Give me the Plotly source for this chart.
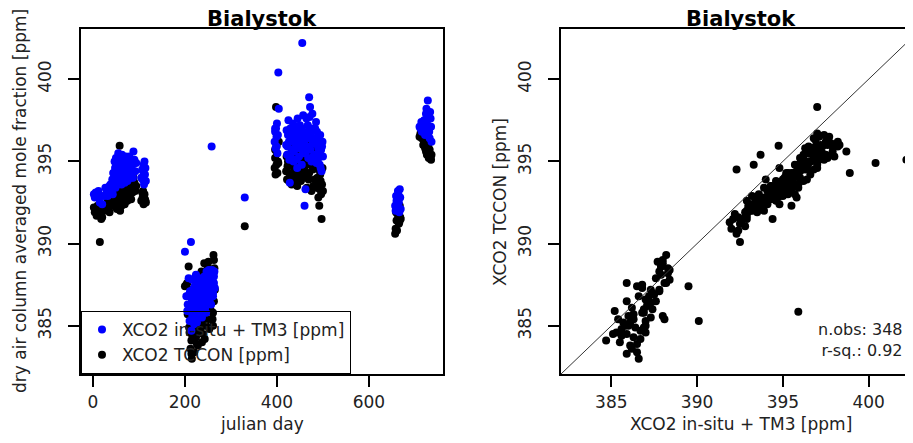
import plotly.graph_objects as go

# julian day, XCO2 in-situ + TM3 (blue), XCO2 TCCON (black)
day = [
    2, 4, 6, 8, 10, 15, 20, 24, 30, 34, 38, 40, 42, 44, 46, 48, 50, 50, 52, 53,
    55, 56, 57, 58, 59, 60, 61, 62, 64, 65, 66, 68, 70, 72, 74, 76, 78, 80, 82, 84,
    86, 88, 90, 92, 105, 107, 108, 110, 112, 113, 115,
    200, 203, 205, 208, 210, 212, 213, 214, 215, 216, 217, 218, 219, 220, 221, 222, 223, 224, 225, 226,
    227, 228, 230, 231, 232, 233, 235, 236, 237, 238, 240, 241, 242, 243, 245, 246, 247, 248, 250, 251,
    252, 253, 255, 256, 257, 258, 259, 260, 261, 262, 263, 264,
    330,
    395, 396, 397, 398, 399, 400, 401, 403, 404, 420, 422, 424, 425, 427, 428, 430, 432, 434, 436, 438,
    440, 442, 444, 446, 448, 450, 452, 454, 455, 456, 458, 460, 461, 462, 464, 465, 466, 468, 470, 471,
    472, 474, 475, 476, 478, 480, 482, 484, 485, 486, 488, 490, 492, 494, 495, 497, 498, 500,
    657, 658, 660, 662, 664, 665, 667, 668, 669,
    712, 715, 718, 720, 722, 724, 726, 728, 729, 730, 732, 733, 735, 736,
    12, 18, 27, 32, 36, 43, 47, 49, 51, 54, 63, 67, 69, 71, 75, 79, 83, 87, 94, 109, 111, 114,
    206, 209, 211, 214, 216, 218, 220, 222, 224, 226, 229, 231, 234, 237, 239, 244, 249, 254, 259, 261, 263, 265,
    396, 399, 402, 421, 423, 426, 429, 431, 433, 435, 437, 439, 441, 443, 445, 447, 449, 451, 453, 457,
    459, 463, 467, 469, 473, 477, 479, 481, 483, 487, 489, 491, 493, 496, 499,
    659, 661, 663, 666,
    710, 714, 719, 725, 731, 734,
]
xco2_insitu_tm3 = [
    393.0, 392.8, 393.1, 392.9, 393.0, 392.5, 392.4, 392.9, 393.1, 393.3, 393.6, 393.2, 393.9, 394.3, 393.7, 394.6, 394.1, 395.2, 393.8, 394.4,
    395.5, 394.0, 394.8, 394.75, 393.9, 395.0, 394.3, 393.6, 394.6, 395.2, 393.9, 394.2, 394.7, 393.9, 394.4, 394.9, 394.1, 394.6, 395.0, 394.3,
    394.8, 395.6, 395.1, 394.4, 394.0, 394.5, 393.9, 394.8, 395.0, 394.2, 393.8,
    389.5, 386.8, 385.9, 387.9, 385.3, 386.2, 390.1, 384.7, 386.6, 385.6, 387.2, 386.0, 385.4, 386.5, 387.4, 385.9, 388.0, 386.3, 386.9, 385.2,
    387.6, 386.1, 387.0, 385.7, 386.8, 387.3, 386.4, 387.8, 385.5, 386.9, 387.5, 386.2, 388.0, 386.7, 387.3, 385.8, 388.3, 387.0, 386.5, 387.7,
    388.4, 386.9, 387.4, 388.2, 386.3, 395.9, 387.8, 388.1, 387.0, 388.2, 387.6, 388.3,
    392.8,
    396.2, 396.8, 395.8, 397.0, 396.5, 397.3, 395.5, 400.4, 398.2, 396.0, 395.4, 396.6, 397.5, 395.1, 393.7, 396.3, 395.7, 396.9, 395.0, 396.4,
    397.1, 395.8, 394.6, 396.2, 395.3, 397.2, 396.0, 394.8, 402.2, 396.7, 395.5, 392.3, 396.3, 393.3, 397.6, 395.9, 396.8, 395.2, 398.9, 397.7,
    398.3, 396.5, 395.0, 397.0, 396.1, 396.9, 395.4, 396.4, 397.4, 394.9, 396.0, 395.8, 395.5, 396.6, 394.6, 394.4, 395.9, 395.3,
    392.3, 392.0, 392.6, 392.2, 393.0, 392.5, 393.3, 392.8, 392.1,
    397.0, 396.8, 397.2, 397.5, 396.6, 397.9, 397.3, 398.7, 396.9, 397.6, 396.4, 398.0, 397.1, 396.2,
    393.2, 392.9, 393.4, 392.9, 393.5, 393.0, 395.0, 393.4, 394.8, 393.6, 395.4, 394.9, 393.7, 395.3, 393.8, 395.3, 394.0, 394.0, 394.9, 394.4, 393.6, 394.6,
    386.3, 386.9, 387.1, 385.9, 387.8, 386.7, 385.1, 387.0, 388.1, 386.5, 385.6, 387.9, 386.0, 387.1, 385.9, 386.1, 387.9, 386.6, 388.4, 386.8, 388.0, 387.3,
    397.0, 395.9, 396.6, 396.9, 395.9, 396.2, 397.0, 395.2, 396.5, 397.3, 395.6, 396.1, 396.8, 395.1, 397.6, 396.5, 395.8, 396.3, 397.0, 397.8,
    396.0, 395.6, 397.2, 396.4, 395.7, 397.9, 395.3, 396.2, 397.0, 396.8, 395.1, 396.3, 394.8, 395.7, 396.2,
    392.9, 392.4, 393.2, 391.9,
    397.1, 397.4, 396.9, 398.2, 396.8, 397.6,
]
xco2_tccon = [
    392.2, 391.9, 392.0, 391.7, 392.3, 390.1, 391.6, 392.0, 392.4, 392.2, 392.6, 392.9, 392.5, 392.7, 392.3, 393.0, 392.4, 393.4, 392.1, 392.8,
    393.3, 392.6, 393.1, 395.95, 392.0, 392.9, 393.5, 392.3, 392.7, 393.2, 392.5, 393.0, 392.8, 393.4, 392.9, 393.6, 393.2, 393.3, 393.8, 393.5,
    393.1, 394.0, 393.7, 393.2, 392.6, 393.1, 392.8, 392.4, 393.0, 392.7, 392.5,
    387.4, 387.5, 387.6, 388.6, 384.6, 383.6, 385.3, 384.1, 383.0, 384.4, 386.8, 385.0, 385.4, 383.4, 387.0, 386.5, 385.6, 384.3, 386.0, 385.9,
    387.9, 383.8, 384.6, 385.2, 387.3, 386.4, 384.9, 388.3, 384.0, 385.8, 386.9, 386.1, 388.8, 384.2, 385.5, 385.0, 388.2, 386.6, 387.4, 388.9,
    388.4, 384.8, 386.0, 387.6, 385.4, 385.85, 387.1, 385.4, 385.0, 389.3, 386.5, 388.5,
    391.05,
    394.6, 395.2, 394.2, 398.3, 395.9, 395.5, 394.3, 394.9, 396.2, 394.4, 393.9, 395.0, 395.4, 394.0, 395.4, 394.8, 393.6, 395.2, 393.9, 394.6,
    395.6, 394.1, 393.5, 395.0, 394.3, 395.3, 393.8, 394.6, 395.1, 395.7, 394.0, 394.5, 394.9, 394.8, 396.3, 393.4, 395.5, 394.2, 394.3, 396.5,
    396.0, 395.0, 393.2, 395.8, 394.5, 395.6, 393.9, 394.7, 395.1, 393.4, 394.0, 392.8, 392.3, 394.2, 393.8, 391.5, 393.6, 393.2,
    390.6, 390.9, 391.4, 391.8, 392.0, 391.2, 392.3, 391.6, 391.5,
    396.7, 396.4, 396.0, 396.2, 395.8, 395.6, 395.4, 395.6, 395.9, 395.2, 395.7, 395.3, 395.1, 395.4,
    392.0, 391.5, 392.1, 392.6, 391.9, 392.3, 393.2, 392.6, 392.9, 393.0, 393.4, 393.3, 392.4, 393.0, 392.6, 393.4, 392.7, 393.9, 393.5, 393.2, 392.9, 392.6,
    385.7, 384.9, 386.2, 383.3, 387.2, 384.7, 384.5, 385.3, 387.6, 383.9, 384.8, 388.1, 385.6, 386.3, 384.5, 385.2, 388.6, 386.8, 387.8, 385.8, 389.0, 387.2,
    395.7, 394.8, 395.0, 395.3, 394.7, 393.8, 394.9, 394.3, 395.5, 395.9, 393.7, 395.1, 394.5, 393.9, 396.0, 394.9, 394.4, 395.8, 394.8, 396.1,
    395.2, 394.3, 395.4, 393.9, 394.8, 395.9, 393.5, 395.3, 394.6, 395.2, 393.7, 394.5, 393.3, 393.0, 394.6,
    391.9, 390.8, 392.1, 391.3,
    396.5, 396.6, 396.3, 395.9, 395.5, 395.3,
]
assert len(day) == len(xco2_insitu_tm3) == len(xco2_tccon)

day_ticks = [0, 200, 400, 600]
ppm_ticks = [385, 390, 395, 400]
ppm_range = [382.07, 403.05]
stats_text = ["n.obs: 348", "r-sq.: 0.92"]

# page body has an 8px margin, so the figure is sized to fill the rest of the window
OFF = 8
W, H = 913 - OFF, 443 - OFF
FONT = "DejaVu Sans"
TXT = "#222222"


def px_x(p):
    return (p - OFF) / W


def px_y(p):
    return 1 - (p - OFF) / H


fig = go.Figure()
# black drawn first so the blue points sit on top, legend keeps blue first
fig.add_trace(go.Scatter(x=day, y=xco2_tccon, mode="markers", name="XCO2 TCCON [ppm]", legendrank=2,
                         marker=dict(color="black", size=8), xaxis="x", yaxis="y"))
fig.add_trace(go.Scatter(x=day, y=xco2_insitu_tm3, mode="markers", name="XCO2 in-situ + TM3 [ppm]", legendrank=1,
                         marker=dict(color="#0000ff", size=8), xaxis="x", yaxis="y"))
fig.add_trace(go.Scatter(x=xco2_insitu_tm3, y=xco2_tccon, mode="markers", showlegend=False,
                         marker=dict(color="black", size=8), xaxis="x2", yaxis="y2"))

# 1:1 line
fig.add_shape(type="line", xref="x2", yref="y2", x0=ppm_range[0], y0=ppm_range[0],
              x1=ppm_range[1], y1=ppm_range[1], line=dict(color="#333333", width=1))

ax = dict(showline=True, linecolor="black", linewidth=1.5, ticks="outside", ticklen=11,
          tickcolor="black", tickwidth=1.5, showgrid=False, zeroline=False,
          tickfont=dict(family=FONT, size=17, color=TXT))
ydom = [px_y(374), px_y(29)]

fig.update_layout(
    width=W, height=H,
    margin=dict(l=0, r=0, t=0, b=0),
    paper_bgcolor="white", plot_bgcolor="white",
    xaxis=dict(ax, domain=[px_x(81), px_x(443)], range=[-26, 761], tickvals=day_ticks,
               mirror=True, anchor="y", ticklabelstandoff=1),
    yaxis=dict(ax, domain=ydom, range=ppm_range, tickvals=ppm_ticks, mirror=True,
               anchor="x", tickangle=-90, ticklabelstandoff=10),
    xaxis2=dict(ax, domain=[px_x(561), 1.0], range=[ppm_range[0], ppm_range[0] + 352 / 17.16],
                tickvals=ppm_ticks, mirror=True, anchor="y2", ticklabelstandoff=1),
    yaxis2=dict(ax, domain=ydom, range=ppm_range, tickvals=ppm_ticks, mirror=False,
                anchor="x2", tickangle=-90, ticklabelstandoff=10),
    legend=dict(x=px_x(81), y=px_y(374), xanchor="left", yanchor="bottom",
                bordercolor="black", borderwidth=1, bgcolor="rgba(0,0,0,0)",
                font=dict(family=FONT, size=17, color=TXT), itemsizing="trace"),
)

annots = [
    dict(text="<b>Bialystok</b>", x=px_x(262), y=px_y(18.5), size=21),
    dict(text="<b>Bialystok</b>", x=px_x(741), y=px_y(18.5), size=21),
    dict(text="julian day", x=px_x(262), y=px_y(424), size=17),
    dict(text="XCO2 in-situ + TM3 [ppm]", x=px_x(741), y=px_y(424), size=17),
]
for a in annots:
    fig.add_annotation(text=a["text"], x=a["x"], y=a["y"], xref="paper", yref="paper",
                       showarrow=False, xanchor="center", yanchor="middle", borderpad=0,
                       font=dict(family=FONT, size=a["size"], color="black" if a["size"] > 20 else TXT))

fig.add_annotation(text="dry air column averaged mole fraction [ppm]", x=px_x(20), y=px_y(201),
                   xref="paper", yref="paper", showarrow=False, textangle=-90,
                   xanchor="center", yanchor="middle", font=dict(family=FONT, size=17, color=TXT))
fig.add_annotation(text="XCO2 TCCON [ppm]", x=px_x(500), y=px_y(202),
                   xref="paper", yref="paper", showarrow=False, textangle=-90,
                   xanchor="center", yanchor="middle", font=dict(family=FONT, size=17, color=TXT))

# statistics box, two right-aligned lines
fig.add_annotation(text="<br>".join(stats_text), x=px_x(904), y=px_y(340), xref="paper", yref="paper",
                   showarrow=False, xanchor="right", yanchor="middle", align="right", borderpad=0,
                   font=dict(family=FONT, size=16, color=TXT))

fig.write_html("out.html")
